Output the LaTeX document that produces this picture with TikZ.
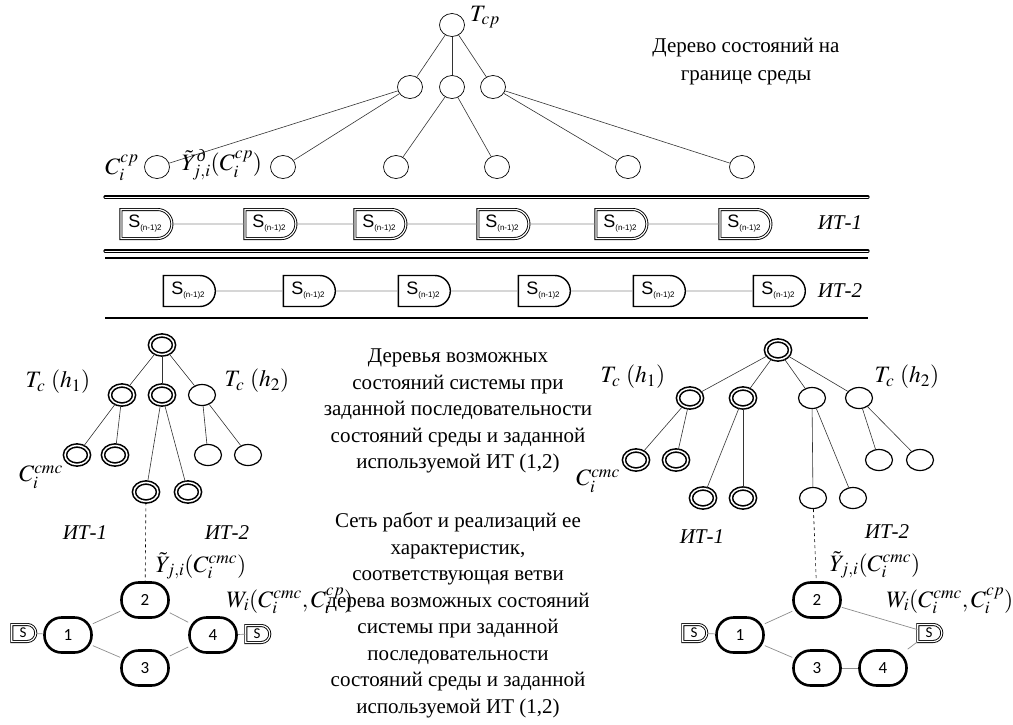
\documentclass[tikz,border=0pt]{standalone}
\usepackage{amsmath}
\usepackage[no-math]{fontspec}
\usepackage{mathptmx}
\setmainfont{Liberation Serif}
\newfontfamily\arialfont{Liberation Sans}
\newfontfamily\calfont{Carlito}
\usetikzlibrary{positioning,shapes.misc,shapes.geometric}
\newcommand{\sname}{S\raisebox{-3pt}{\fontsize{8}{8}\selectfont(n-1)2}}
\newcommand{\yd}{\tilde{Y}}

\begin{document}
\begin{tikzpicture}[x=1pt,y=-1pt,
  every node/.style={font=\fontsize{21}{26.5}\selectfont},
  st/.style={draw,ellipse,inner sep=0pt,minimum width=25pt,minimum height=23pt,line width=0.7pt},
  sst/.style={draw,ellipse,inner sep=0pt,minimum width=27pt,minimum height=21pt,line width=1.2pt},
  dst/.style={sst,minimum width=24pt,minimum height=19pt,line width=1.6pt,double,double distance=1.5pt},
  sbox/.style={draw,rounded rectangle,rounded rectangle left arc=none,inner sep=0pt,minimum width=52pt,minimum height=31pt,line width=1.4pt,font=\arialfont\fontsize{18}{18}\selectfont},
  dsbox/.style={sbox,minimum width=51pt,minimum height=29pt,line width=0.9pt,double,double distance=1.2pt},
  job/.style={draw,rounded corners=17pt,minimum width=47pt,minimum height=35pt,line width=2.6pt,font=\calfont\fontsize{17}{17}\selectfont},
  ss/.style={draw,rounded rectangle,rounded rectangle left arc=none,inner sep=0pt,minimum width=24pt,minimum height=17pt,line width=0.9pt,double,double distance=1.2pt,font=\calfont\fontsize{15}{15}\selectfont},
  link/.style={draw=black!80,line width=0.6pt},
  glink/.style={draw=black!45,line width=0.7pt},
  dline/.style={line width=1.1pt,double,double distance=1pt,line cap=round},
  sline/.style={line width=1.8pt},
  lbl/.style={font=\fontsize{21}{26.5}\selectfont\itshape},
  mlbl/.style={font=\fontsize{23.5}{26.5}\selectfont}]
  \useasboundingbox (0,0) rectangle (1013,724);

  % state tree of the environment
  \node[st] (tr) at (452,25) {};
  \node[st] (ta) at (410,87) {};
  \node[st] (tb) at (452,87) {};
  \node[st] (tc) at (493,87) {};
  \node[st] (t1) at (157,167) {};
  \node[st] (t2) at (283,167) {};
  \node[st] (t3) at (396,167) {};
  \node[st] (t4) at (497,167) {};
  \node[st] (t5) at (628,167) {};
  \node[st] (t6) at (742,167) {};
  \path[link]
    (tr) edge (ta) (tr) edge (tb) (tr) edge (tc)
    (ta) edge (t1) (ta) edge (t2)
    (tb) edge (t3) (tb) edge (t4)
    (tc) edge (t5) (tc) edge (t6);
  \node[mlbl] (tcp) at (485,17) {$T_{cp}$};
  \node[mlbl] (ccp) at (122,168) {$C_i^{cp}$};
  \node[mlbl] (ycp) at (222,165) {$\yd^{\text{\itshape д}}_{j,i}(C_i^{cp})$};
  \node[align=center,font=\fontsize{21}{28}\selectfont] (txt0) at (746,62)
    {Дерево состояний на\\границе среды};

  % IT rows
  \draw[dline] (105,197) -- (868,197);
  \draw[dline] (105,251) -- (868,251);
  \draw[sline] (105,258) -- (868,258);
  \draw[sline] (105,318) -- (868,318);
  \node[dsbox] (a1) at (145,224) {\sname};
  \node[dsbox] (a2) at (269,224) {\sname};
  \node[dsbox] (a3) at (379,224) {\sname};
  \node[dsbox] (a4) at (502,224) {\sname};
  \node[dsbox] (a5) at (620,224) {\sname};
  \node[dsbox] (a6) at (744,224) {\sname};
  \node[sbox] (b1) at (188,291) {\sname};
  \node[sbox] (b2) at (308,291) {\sname};
  \node[sbox] (b3) at (423,291) {\sname};
  \node[sbox] (b4) at (543,291) {\sname};
  \node[sbox] (b5) at (658,291) {\sname};
  \node[sbox] (b6) at (778,291) {\sname};
  \path[glink] (a1) edge (a2) (a2) edge (a3) (a3) edge (a4) (a4) edge (a5) (a5) edge (a6);
  \path[glink] (b1) edge (b2) (b2) edge (b3) (b3) edge (b4) (b4) edge (b5) (b5) edge (b6);
  \node[lbl] (it1) at (840,223) {ИТ-1};
  \node[lbl] (it2) at (840,291) {ИТ-2};

  % left tree of system states
  \node[dst] (lr) at (162,345) {};
  \node[dst] (la) at (122,395) {};
  \node[dst] (lb) at (162,395) {};
  \node[sst] (lc) at (202,395) {};
  \node[dst] (la1) at (77,455) {};
  \node[dst] (la2) at (115,455) {};
  \node[sst] (lc1) at (208,455) {};
  \node[sst] (lc2) at (248,455) {};
  \node[dst] (lb1) at (146,492) {};
  \node[dst] (lb2) at (188,492) {};
  \path[link]
    (lr) edge (la) (lr) edge (lb) (lr) edge (lc)
    (la) edge (la1) (la) edge (la2)
    (lb) edge (lb1) (lb) edge (lb2)
    (lc) edge (lc1) (lc) edge (lc2);
  \node[mlbl] (lh1) at (58,382) {$T_c\ (h_1)$};
  \node[mlbl] (lh2) at (257,381) {$T_c\ (h_2)$};
  \node[mlbl] (lcm) at (41,477) {$C_i^{cmc}$};

  % right tree of system states
  \node[dst] (rr) at (778,350) {};
  \node[dst] (ra) at (690,398) {};
  \node[dst] (rb) at (743,398) {};
  \node[sst] (rc) at (812,398) {};
  \node[sst] (rd) at (859,398) {};
  \node[dst] (ra1) at (636,460) {};
  \node[dst] (ra2) at (676,460) {};
  \node[sst] (rd1) at (879,460) {};
  \node[sst] (rd2) at (920,460) {};
  \node[dst] (rb1) at (703,498) {};
  \node[dst] (rb2) at (743,498) {};
  \node[sst] (rc1) at (813,498) {};
  \node[sst] (rc2) at (853,498) {};
  \path[link]
    (rr) edge (ra) (rr) edge (rb) (rr) edge (rc) (rr) edge (rd)
    (ra) edge (ra1) (ra) edge (ra2)
    (rb) edge (rb1) (rb) edge (rb2)
    (rc) edge (rc1) (rc) edge (rc2)
    (rd) edge (rd1) (rd) edge (rd2);
  \node[mlbl] (rh1) at (633,377) {$T_c\ (h_1)$};
  \node[mlbl] (rh2) at (907,377) {$T_c\ (h_2)$};
  \node[mlbl] (rcm) at (598,481) {$C_i^{cmc}$};

  % left network of jobs
  \node[ss] (ls1) at (23,633) {S};
  \node[job] (l1) at (68,635) {1};
  \node[job] (l2) at (145,600) {2};
  \node[job] (l3) at (145,668) {3};
  \node[job] (l4) at (213,635) {4};
  \node[ss] (ls2) at (257,634) {S};
  \path[glink] (ls1) edge (l1) (l1) edge (l2) (l1) edge (l3)
    (l2) edge (l4) (l3) edge (l4) (l4) edge (ls2);
  \draw[dashed,line width=0.6pt] (lb1) -- (l2);
  \node[lbl] (lit1) at (85,533) {ИТ-1};
  \node[lbl] (lit2) at (227,533) {ИТ-2};
  \node[mlbl] (ly) at (201,566) {$\yd_{j,i}(C_i^{cmc})$};
  \node[mlbl] (lw) at (290,601) {$W_i(C_i^{cmc},C_i^{cp})$};

  % right network of jobs
  \node[ss] (rs1) at (694,633) {S};
  \node[job] (r1) at (740,635) {1};
  \node[job] (r2) at (817,600) {2};
  \node[job] (r3) at (817,668) {3};
  \node[job] (r4) at (883,668) {4};
  \node[ss] (rs2) at (929,633) {S};
  \path[glink] (rs1) edge (r1) (r1) edge (r2) (r1) edge (r3)
    (r2) edge (rs2) (r3) edge (r4) (r4) edge (rs2);
  \draw[dashed,line width=0.6pt] (rc1) -- (r2);
  \node[lbl] (rit1) at (702,537) {ИТ-1};
  \node[lbl] (rit2) at (887,532) {ИТ-2};
  \node[mlbl] (ry) at (875,565) {$\yd_{j,i}(C_i^{cmc})$};
  \node[mlbl] (rw) at (950,601) {$W_i(C_i^{cmc},C_i^{cp})$};

  % captions
  \node[align=center] (txt1) at (458,411)
    {Деревья возможных\\состояний системы при\\заданной последовательности\\состояний среды и заданной\\используемой ИТ (1,2)};
  \node[align=center] (txt2) at (458,615)
    {Сеть работ и реализаций ее\\характеристик,\\соответствующая ветви\\дерева возможных состояний\\системы при заданной\\последовательности\\состояний среды и заданной\\используемой ИТ (1,2)};
\end{tikzpicture}
\end{document}
